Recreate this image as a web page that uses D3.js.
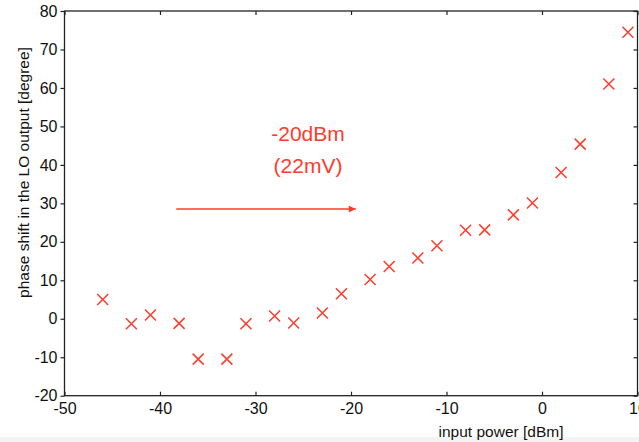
<!DOCTYPE html>
<html>
<head>
<meta charset="utf-8">
<script src="https://cdn.jsdelivr.net/npm/d3@7"></script>
<style>
  html, body { margin: 0; padding: 0; background: #fff; }
  svg { display: block; }
  text { font-family: "Liberation Sans", Arial, Helvetica, sans-serif; fill: #111; }
</style>
</head>
<body>
<script>
// ---- data ----
const inputPower = [-46, -43, -41, -38, -36, -33, -31, -28, -26, -23, -21, -18, -16, -13, -11, -8, -6, -3, -1, 2, 4, 7, 9];
const phaseShift = [5, -1.3, 1, -1.2, -10.5, -10.5, -1.3, 0.7, -1.1, 1.5, 6.5, 10.2, 13.6, 15.8, 19, 23, 23.1, 27, 30.1, 38, 45.4, 61, 74.5];
const xTicks = [-50, -40, -30, -20, -10, 0, 10];
const yTicks = [-20, -10, 0, 10, 20, 30, 40, 50, 60, 70, 80];
const annotationLines = ["-20dBm", "(22mV)"];
const arrowFrom = [-38.3, 28.5];
const arrowTo = [-19.5, 28.5];

(function () {
const W = 639, H = 442;
const pL = 64.5, pR = 637.5, pT = 11, pB = 395.7;
const red = "#ff3b2b";

const svg = d3.select("body").append("svg").attr("width", W).attr("height", H);
svg.append("rect").attr("x", 0).attr("y", 0).attr("width", W).attr("height", H).attr("fill", "#fff");
svg.append("rect").attr("x", 0).attr("y", 437).attr("width", W).attr("height", 5).attr("fill", "#f3f3f3");

const x = d3.scaleLinear().domain([-50, 10]).range([pL, pR]);
const y = d3.scaleLinear().domain([-20, 80]).range([pB, pT]);

const fmt = d => String(d);

const gL = svg.append("g").attr("transform", `translate(${pL},0)`)
  .call(d3.axisLeft(y).tickValues(yTicks).tickSize(4).tickPadding(3).tickFormat(fmt));
const gB = svg.append("g").attr("transform", `translate(0,${pB})`)
  .call(d3.axisBottom(x).tickValues(xTicks).tickSize(-4).tickPadding(6).tickFormat(fmt));
const gT = svg.append("g").attr("transform", `translate(0,${pT})`)
  .call(d3.axisTop(x).tickValues(xTicks).tickSize(-4).tickFormat(""));
const gR = svg.append("g").attr("transform", `translate(${pR},0)`)
  .call(d3.axisRight(y).tickValues(yTicks).tickSize(-4).tickFormat(""));

[gL, gB, gT, gR].forEach(g => {
  g.select(".domain").remove();
  g.selectAll(".tick line").attr("stroke", "#222").attr("stroke-width", 1.2);
  g.selectAll("text").attr("font-size", 16).attr("fill", "#111")
    .style("font-family", '"Liberation Sans", Arial, sans-serif');
});
gB.selectAll(".tick text").attr("dy", "0.78em");

svg.append("rect")
  .attr("x", pL).attr("y", pT)
  .attr("width", pR - pL).attr("height", pB - pT)
  .attr("fill", "none").attr("stroke", "#222").attr("stroke-width", 1.3);

svg.append("text")
  .attr("x", 501).attr("y", 437)
  .attr("text-anchor", "middle").attr("font-size", 15.5)
  .text("input power [dBm]");
svg.append("text")
  .attr("transform", `translate(29,172.5) rotate(-90)`)
  .attr("text-anchor", "middle").attr("font-size", 15.5)
  .text("phase shift in the LO output [degree]");

const s = 5.5;
const pts = inputPower.map((v, i) => [v, phaseShift[i]]);
const gm = svg.append("g").attr("stroke", red).attr("stroke-width", 1.5).attr("fill", "none");
gm.selectAll("path").data(pts).join("path")
  .attr("d", d => {
    const cx = x(d[0]), cy = y(d[1]);
    return `M${cx - s},${cy - s}L${cx + s},${cy + s}M${cx - s},${cy + s}L${cx + s},${cy - s}`;
  });

svg.append("defs").append("marker")
  .attr("id", "ah").attr("viewBox", "0 0 10 10")
  .attr("refX", 10).attr("refY", 5)
  .attr("markerWidth", 8).attr("markerHeight", 7)
  .attr("markerUnits", "userSpaceOnUse")
  .attr("orient", "auto")
  .append("path").attr("d", "M0,0L10,5L0,10Z").attr("fill", red);

svg.append("line")
  .attr("x1", x(arrowFrom[0])).attr("y1", y(arrowFrom[1]))
  .attr("x2", x(arrowTo[0])).attr("y2", y(arrowTo[1]))
  .attr("stroke", red).attr("stroke-width", 1.5)
  .attr("marker-end", "url(#ah)");

const annY = [46.1, 38.0];
annotationLines.forEach((t, i) => {
  svg.append("text")
    .attr("x", x(-24.5)).attr("y", y(annY[i]))
    .attr("text-anchor", "middle").attr("font-size", 21)
    .style("fill", red)
    .text(t);
});
})();
</script>
</body>
</html>
